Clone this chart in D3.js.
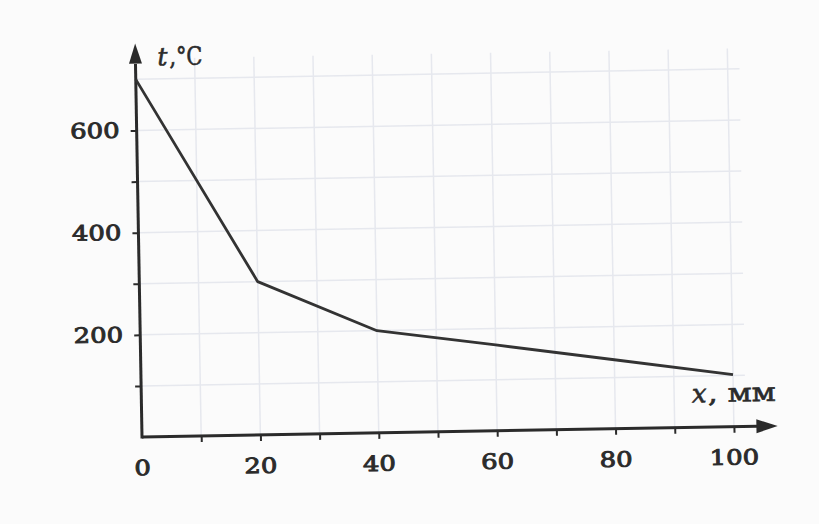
<!DOCTYPE html>
<html><head><meta charset="utf-8">
<script src="https://cdn.jsdelivr.net/npm/d3@7"></script>
<style>html,body{margin:0;padding:0;background:#fbfbfb}</style>
</head><body>
<svg id="c" width="819" height="524"></svg>
<script>
// data
const distance = [0, 20, 40, 60, 80, 100];          // x, mm
const temperature = [700, 300, 200, 168, 135, 102]; // t, °C
const xTickLabels = [0, 20, 40, 60, 80, 100];
const yTickLabels = [200, 400, 600];
const xMinorTicks = [10, 20, 30, 40, 50, 60, 70, 80, 90, 100];
const yMinorTicks = [100, 200, 300, 400, 500, 600];
const xGridValues = [10, 20, 30, 40, 50, 60, 70, 80, 90, 100];
const yGridValues = [100, 200, 300, 400, 500, 600, 700];
const xTitleParts = ["x", ", мм"];
const yTitleParts = ["t", ",°C"];

const svg = d3.select("#c");
svg.append("rect").attr("width", 819).attr("height", 524).attr("fill", "#fbfbfb");

const x = d3.scaleLinear().domain([0, 100]).range([0, 592]);
const y = d3.scaleLinear().domain([0, 700]).range([0, -357.7]);

const g = svg.append("g").attr("transform", "translate(142,437) rotate(-1.0)");

const ink = "#2b2b2b";

// grid
g.append("g").selectAll("line").data(xGridValues).join("line")
  .attr("x1", d => x(d)).attr("x2", d => x(d))
  .attr("y1", y(0)).attr("y2", y(740))
  .attr("stroke", "#e6e8ee").attr("stroke-width", 1.5);
g.append("g").selectAll("line").data(yGridValues).join("line")
  .attr("x1", x(0)).attr("x2", x(102))
  .attr("y1", d => y(d)).attr("y2", d => y(d))
  .attr("stroke", "#e6e8ee").attr("stroke-width", 1.5);

// ticks via d3 axes
const xAxis = g.append("g").call(d3.axisBottom(x).tickValues(xMinorTicks).tickSize(6).tickFormat(""));
const yAxis = g.append("g").call(d3.axisLeft(y).tickValues(yMinorTicks).tickSize(6).tickFormat(""));
[xAxis, yAxis].forEach(a => {
  a.select(".domain").remove();
  a.selectAll(".tick line").attr("stroke", ink).attr("stroke-width", 2);
});

// axis lines with arrows
g.append("line").attr("x1", x(0)).attr("x2", x(104)).attr("y1", 0).attr("y2", 0)
  .attr("stroke", ink).attr("stroke-width", 3);
g.append("line").attr("x1", 0).attr("x2", 0).attr("y1", 1.5).attr("y2", y(730))
  .attr("stroke", ink).attr("stroke-width", 3);
const xEnd = x(107.4);
g.append("path").attr("d", `M${xEnd},0 L${x(103.8)},-7 L${x(103.8)},7 Z`).attr("fill", ink);
const yEnd = y(770);
g.append("path").attr("d", `M0,${yEnd} L-6.5,${y(731)} L6.5,${y(731)} Z`).attr("fill", ink);

// data line
const pts = distance.map((d, i) => [d, temperature[i]]);
g.append("path").datum(pts)
  .attr("d", d3.line().x(d => x(d[0])).y(d => y(d[1])))
  .attr("fill", "none").attr("stroke", "#333").attr("stroke-width", 2.8)
  .attr("stroke-linejoin", "round");

// tick labels
const font = "'DejaVu Serif', 'Liberation Serif', serif";
g.append("g").selectAll("text").data(xTickLabels).join("text")
  .attr("x", d => x(d)).attr("y", 31)
  .attr("text-anchor", "middle").attr("dominant-baseline", "central")
  .attr("font-family", font).attr("font-size", 21)
  .attr("textLength", d => String(d).length * 16.5).attr("lengthAdjust", "spacingAndGlyphs")
  .attr("fill", ink).attr("stroke", ink).attr("stroke-width", 0.9)
  .text(d => d);
g.append("g").selectAll("text").data(yTickLabels).join("text")
  .attr("x", -17).attr("y", d => y(d))
  .attr("text-anchor", "end").attr("dominant-baseline", "central")
  .attr("font-family", font).attr("font-size", 21)
  .attr("textLength", d => String(d).length * 16.5).attr("lengthAdjust", "spacingAndGlyphs")
  .attr("fill", ink).attr("stroke", ink).attr("stroke-width", 0.9)
  .text(d => d);

// axis titles (italic variable + upright unit as separate texts)
function title(px, py, parts, size, unitOffset, unitLen) {
  g.append("text").attr("x", px).attr("y", py)
    .attr("font-family", font).attr("font-size", size).attr("font-style", "italic")
    .attr("fill", ink).attr("stroke", ink).attr("stroke-width", 0.6)
    .text(parts[0]);
  g.append("text").attr("x", px + unitOffset).attr("y", py)
    .attr("font-family", font).attr("font-size", size)
    .attr("fill", ink).attr("stroke", ink).attr("stroke-width", 0.6)
    .attr("textLength", unitLen).attr("lengthAdjust", "spacingAndGlyphs")
    .text(parts[1]);
}
title(22, y(727), yTitleParts, 25, 12, 33);
title(x(93.0), -25, xTitleParts, 26, 16, 68);
</script>
</body></html>
